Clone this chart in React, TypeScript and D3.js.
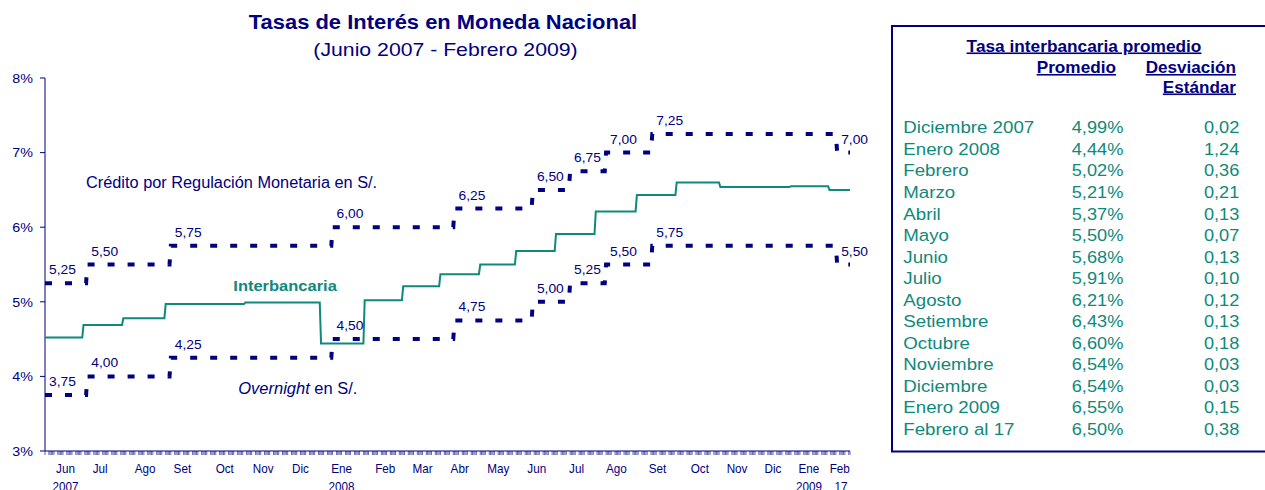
import React from "react";
import * as d3 from "d3";

const NAVY = "#000080";
const TEAL = "#0f897b";
const FONT = "'Liberation Sans', Arial, Helvetica, sans-serif";

// ---- data ----
const startDate = "2007-06-01";
const endDate = "2009-02-17";
const yTicks = [3, 4, 5, 6, 7, 8];

const monthLabels = ["Jun", "Jul", "Ago", "Set", "Oct", "Nov", "Dic", "Ene", "Feb", "Mar", "Abr", "May", "Jun", "Jul", "Ago", "Set", "Oct", "Nov", "Dic", "Ene", "Feb"];
const monthLabelDates = ["2007-06-17", "2007-07-14", "2007-08-18", "2007-09-16", "2007-10-19", "2007-11-18", "2007-12-17", "2008-01-18", "2008-02-21", "2008-03-21", "2008-04-19", "2008-05-19", "2008-06-18", "2008-07-19", "2008-08-19", "2008-09-20", "2008-10-23", "2008-11-21", "2008-12-19", "2009-01-16", "2009-02-09"];
const yearLabels = ["2007", "2008", "2009", "17"];
const yearLabelDates = ["2007-06-17", "2008-01-18", "2009-01-16", "2009-02-10"];

// Interbank rate (monthly steps)
const ibStarts = ["2007-06-01", "2007-07-01", "2007-08-01", "2007-09-03", "2007-11-04", "2008-01-02", "2008-02-05", "2008-03-06", "2008-04-04", "2008-05-05", "2008-06-02", "2008-07-03", "2008-08-03", "2008-09-04", "2008-10-05", "2008-11-08", "2009-01-02", "2009-02-01"];
const ibValues = [4.52, 4.69, 4.78, 4.97, 4.99, 4.44, 5.02, 5.21, 5.37, 5.50, 5.68, 5.91, 6.21, 6.43, 6.60, 6.54, 6.55, 6.50];

// Policy corridor
const rateStarts = ["2007-06-01", "2007-07-04", "2007-09-07", "2008-01-11", "2008-04-15", "2008-06-15", "2008-07-14", "2008-08-11", "2008-09-16", "2009-02-07"];
const creditValues = [5.25, 5.50, 5.75, 6.00, 6.25, 6.50, 6.75, 7.00, 7.25, 7.00];
const overnightValues = [3.75, 4.00, 4.25, 4.50, 4.75, 5.00, 5.25, 5.50, 5.75, 5.50];

// Table
const tableMonths = ["Diciembre 2007", "Enero 2008", "Febrero", "Marzo", "Abril", "Mayo", "Junio", "Julio", "Agosto", "Setiembre", "Octubre", "Noviembre", "Diciembre", "Enero 2009", "Febrero al 17"];
const tableAvg = [4.99, 4.44, 5.02, 5.21, 5.37, 5.50, 5.68, 5.91, 6.21, 6.43, 6.60, 6.54, 6.54, 6.55, 6.50];
const tableSd = [0.02, 1.24, 0.36, 0.21, 0.13, 0.07, 0.13, 0.10, 0.12, 0.13, 0.18, 0.03, 0.03, 0.15, 0.38];

// ---- helpers ----
const parse = d3.timeParse("%Y-%m-%d") as (s: string) => Date;
const comma = (v: number) => d3.format(".2f")(v).replace(".", ",");

function T(props: any) {
  const { x, y, sx = 1, anchor = "start", size = 13, weight = "normal", fill = NAVY, italic = false, underline = false, children } = props;
  return (
    <text
      transform={`translate(${x},${y}) scale(${sx},1)`}
      textAnchor={anchor}
      fontSize={size}
      fontWeight={weight}
      fontStyle={italic ? "italic" : "normal"}
      fill={fill}
      fontFamily={FONT}
      style={underline ? { textDecoration: "underline" } : undefined}
    >
      {children}
    </text>
  );
}

function stepPoints(starts: string[], values: number[], end: Date): [Date, number][] {
  const pts: [Date, number][] = [];
  starts.forEach((s, i) => {
    const a = parse(s);
    const b = i < starts.length - 1 ? d3.timeDay.offset(parse(starts[i + 1]), -1) : end;
    pts.push([a, values[i]], [b, values[i]]);
  });
  return pts;
}

export default function App() {
  const W = 1265, H = 490;
  const x0 = 45, x1 = 850, yTop = 78, yBot = 451;
  const start = parse(startDate), end = parse(endDate);
  const x = d3.scaleTime().domain([start, end]).range([x0, x1]);
  const y = d3.scaleLinear().domain([3, 8]).range([yBot, yTop]);

  const line = d3.line<[Date, number]>().x((d) => x(d[0])).y((d) => y(d[1]));
  const ibPath = line(stepPoints(ibStarts, ibValues, end)) || "";
  const crPath = line(stepPoints(rateStarts, creditValues, end)) || "";
  const onPath = line(stepPoints(rateStarts, overnightValues, end)) || "";

  const days = d3.timeDay.range(start, d3.timeDay.offset(end, 1)).filter((d) => d.getDay() !== 0 && d.getDay() !== 6);

  const rowY = d3.scalePoint<string>().domain(tableMonths).range([133.3, 435]);

  return (
    <svg width={W} height={H} style={{ position: "absolute", left: 0, top: 0, background: "#fff" }}>
      <rect x={0} y={0} width={W} height={H} fill="#fff" />
      {/* Title */}
      <T x={443} y={29} sx={1.125} anchor="middle" size={19.5} weight="bold">Tasas de Interés en Moneda Nacional</T>
      <T x={445.5} y={55.5} sx={1.18} anchor="middle" size={18}>(Junio 2007 - Febrero 2009)</T>

      {/* Y axis */}
      <line x1={x0} x2={x0} y1={yTop} y2={yBot} stroke={NAVY} strokeWidth={1} />
      {yTicks.map((t) => (
        <g key={t}>
          <line x1={x0 - 5} x2={x0} y1={y(t)} y2={y(t)} stroke={NAVY} />
          <T x={33} y={y(t) + 4.7} sx={1.1} anchor="end" size={13}>{`${t}%`}</T>
        </g>
      ))}

      {/* X axis */}
      <line x1={x0} x2={x1} y1={yBot} y2={yBot} stroke={NAVY} />
      {days.map((d, i) => (
        <line key={i} x1={x(d)} x2={x(d)} y1={yBot} y2={yBot + 4} stroke={NAVY} strokeWidth={0.8} opacity={0.75} />
      ))}
      {monthLabels.map((m, i) => (
        <T key={i} x={x(parse(monthLabelDates[i]))} y={472.7} sx={0.9} anchor="middle" size={13}>{m}</T>
      ))}
      {yearLabels.map((m, i) => (
        <T key={i} x={x(parse(yearLabelDates[i]))} y={490.5} sx={0.9} anchor="middle" size={13}>{m}</T>
      ))}

      {/* Series */}
      <path d={crPath} fill="none" stroke={NAVY} strokeWidth={4} strokeDasharray="7,13" />
      <path d={onPath} fill="none" stroke={NAVY} strokeWidth={4} strokeDasharray="7,13" />
      <path d={ibPath} fill="none" stroke={TEAL} strokeWidth={2} />

      {rateStarts.map((s, i) => (
        <g key={s}>
          <T x={x(parse(s)) + 4} y={y(creditValues[i]) - 9} sx={1.15} size={12}>{comma(creditValues[i])}</T>
          <T x={x(parse(s)) + 4} y={y(overnightValues[i]) - 9} sx={1.15} size={12}>{comma(overnightValues[i])}</T>
        </g>
      ))}

      {/* Annotations */}
      <T x={86} y={188.3} sx={1.02} size={16}>Crédito por Regulación Monetaria en S/.</T>
      <T x={233.3} y={290.7} sx={1.1} size={15} weight="bold" fill={TEAL}>Interbancaria</T>
      <text transform="translate(238.3,394.3) scale(1.03,1)" fontSize={16} fill={NAVY} fontFamily={FONT}>
        <tspan fontStyle="italic">Overnight</tspan>
        <tspan> en S/.</tspan>
      </text>

      {/* Table */}
      <rect x={892} y={26} width={400} height={425.5} fill="none" stroke={NAVY} strokeWidth={2} />
      <T x={1084} y={51.5} sx={1.08} anchor="middle" size={16} weight="bold" underline>Tasa interbancaria promedio</T>
      <T x={1116} y={73} sx={1.075} anchor="end" size={16} weight="bold" underline>Promedio</T>
      <T x={1236} y={73} sx={1.07} anchor="end" size={16} weight="bold" underline>Desviación</T>
      <T x={1236} y={92.5} sx={1.07} anchor="end" size={16} weight="bold" underline>Estándar</T>
      {tableMonths.map((m, i) => (
        <g key={m + i}>
          <T x={903.3} y={rowY(m)} sx={1.1} size={17} fill={TEAL}>{m}</T>
          <T x={1123.3} y={rowY(m)} sx={1.07} anchor="end" size={17} fill={TEAL}>{`${comma(tableAvg[i])}%`}</T>
          <T x={1239.3} y={rowY(m)} sx={1.07} anchor="end" size={17} fill={TEAL}>{comma(tableSd[i])}</T>
        </g>
      ))}
    </svg>
  );
}
